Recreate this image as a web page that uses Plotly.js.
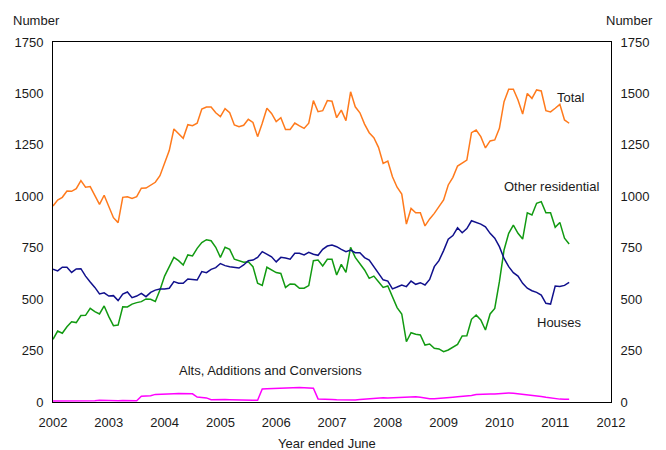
<!DOCTYPE html>
<html>
<head>
<meta charset="utf-8">
<script src="https://cdn.plot.ly/plotly-3.0.1.min.js"></script>
<style>html,body{margin:0;padding:0;background:#fff;}#chart{width:666px;height:450px;}</style>
</head>
<body>
<div id="chart"></div>
<script>
// Monthly series, plotted from 2002.0
const startYear = 2002;
const total = [953,982,995,1026,1024,1037,1076,1044,1047,1003,961,1005,946,896,872,995,998,990,998,1039,1040,1056,1068,1100,1160,1222,1327,1303,1282,1348,1343,1355,1424,1434,1434,1406,1387,1426,1406,1347,1338,1345,1374,1359,1290,1355,1428,1403,1363,1382,1325,1325,1356,1342,1330,1355,1465,1411,1416,1465,1462,1382,1419,1368,1508,1435,1406,1351,1309,1285,1238,1160,1171,1095,1044,1011,865,941,920,920,856,890,917,950,982,1055,1092,1147,1163,1176,1309,1322,1290,1235,1269,1274,1330,1460,1520,1520,1468,1400,1500,1476,1517,1512,1416,1410,1428,1447,1371,1355];
const otherResidential = [305,345,334,366,390,386,420,421,455,439,428,467,415,371,374,463,462,476,483,488,501,499,489,544,612,658,703,687,666,715,710,747,775,789,784,752,703,752,742,694,685,679,682,658,577,567,655,642,629,625,557,574,572,553,553,566,687,690,661,694,694,617,669,630,752,703,671,642,601,612,585,557,564,508,459,428,293,337,329,326,277,282,261,258,245,253,266,280,321,322,402,423,399,350,428,455,585,739,820,860,820,792,920,909,966,974,920,920,849,873,796,768];
const houses = [645,637,655,655,630,647,648,612,583,557,525,531,515,517,493,525,535,507,515,528,512,533,544,549,549,553,585,577,577,598,596,593,634,629,645,653,673,663,658,655,651,666,687,690,703,731,719,706,681,703,700,694,723,723,715,728,718,713,742,758,763,755,742,731,739,726,726,702,690,658,622,594,588,550,559,569,561,588,572,580,569,596,658,687,736,791,809,847,823,843,881,873,865,852,820,796,755,698,658,629,612,577,553,541,533,520,480,476,564,561,567,582];
const alts = [5,5,4,5,5,6,7,6,5,6,8,7,8,7,6,7,6,4,6,28,29,30,37,37,37,38,40,41,41,41,40,24,22,20,11,12,13,12,11,10,8,8,8,8,8,63,65,66,66,66,67,68,68,70,69,68,67,15,13,12,12,11,10,10,9,10,12,14,16,19,21,21,20,21,23,24,25,26,26,23,18,16,16,17,19,22,23,25,27,28,32,36,38,38,39,39,41,43,44,42,40,38,36,33,30,27,23,19,16,14,13,13];
const seriesNames = ['Total','Other residential','Houses','Alts, Additions and Conversions'];
const seriesColors = ['#FF7A1C','#119A11','#10108C','#FF00FF'];
const yTicks = [0,250,500,750,1000,1250,1500,1750];
const xTicks = [2002,2003,2004,2005,2006,2007,2008,2009,2010,2011,2012];

const months = total.map((_, i) => startYear + i / 12);
const allSeries = [total, otherResidential, houses, alts];
const traces = allSeries.map((vals, k) => ({
  x: months, y: vals, type: 'scatter', mode: 'lines', name: seriesNames[k],
  line: {color: seriesColors[k], width: 1.5}, hoverinfo: 'skip'
}));

const font = {family: 'Liberation Sans, Arial, sans-serif', size: 13, color: '#1a1a1a'};
const layout = {
  width: 666, height: 450,
  margin: {l: 53, r: 55, t: 42, b: 48},
  paper_bgcolor: '#fff', plot_bgcolor: '#fff',
  showlegend: false,
  font: font,
  xaxis: {range: [2002, 2012], tickvals: xTicks, ticktext: xTicks.map(String), showgrid: false, zeroline: false,
    showline: true, linecolor: '#000', linewidth: 1, mirror: true, ticks: '', tickfont: font, ticklabelstandoff: 8},
  yaxis: {range: [0, 1750], tickvals: yTicks, ticktext: yTicks.map(String), showgrid: false, zeroline: false,
    showline: true, linecolor: '#000', linewidth: 1, ticks: '', tickfont: font, ticklabelstandoff: 6},
  yaxis2: {range: [0, 1750], tickvals: yTicks, ticktext: yTicks.map(String), overlaying: 'y', side: 'right',
    showgrid: false, zeroline: false, showline: true, linecolor: '#000', linewidth: 1, ticks: '', tickfont: font, ticklabelstandoff: 6},
  annotations: [
    {text: 'Number', xref: 'paper', yref: 'paper', x: -0.029, y: 1.06, xanchor: 'center', yanchor: 'middle', showarrow: false, font: font},
    {text: 'Number', xref: 'paper', yref: 'paper', x: 1.034, y: 1.06, xanchor: 'center', yanchor: 'middle', showarrow: false, font: font},
    {text: 'Year ended June', xref: 'paper', yref: 'paper', x: 0.491, y: -0.114, xanchor: 'center', yanchor: 'middle', showarrow: false, font: font},
    {text: 'Total', x: 2011.28, y: 1481, xanchor: 'center', yanchor: 'middle', showarrow: false, font: font},
    {text: 'Other residential', x: 2010.93, y: 1050, xanchor: 'center', yanchor: 'middle', showarrow: false, font: font},
    {text: 'Houses', x: 2011.07, y: 385, xanchor: 'center', yanchor: 'middle', showarrow: false, font: font},
    {text: 'Alts, Additions and Conversions', x: 2005.89, y: 151, xanchor: 'center', yanchor: 'middle', showarrow: false, font: font}
  ]
};
traces.push({x: [startYear], y: [0], yaxis: 'y2', type: 'scatter', mode: 'markers', marker: {opacity: 0}, hoverinfo: 'skip', showlegend: false});
Plotly.newPlot('chart', traces, layout, {staticPlot: true, displayModeBar: false});
</script>
</body>
</html>
